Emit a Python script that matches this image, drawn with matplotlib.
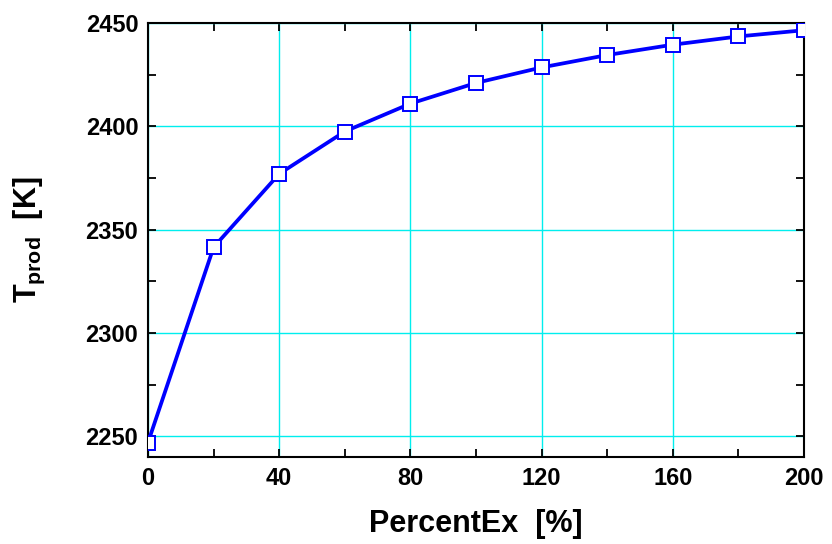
import numpy as np
import matplotlib
matplotlib.use('Agg')
import matplotlib.pyplot as plt
from matplotlib.ticker import MultipleLocator

plt.rcParams['font.family'] = ['Liberation Sans', 'DejaVu Sans']
plt.rcParams['font.weight'] = 'bold'
plt.rcParams['mathtext.fontset'] = 'custom'
plt.rcParams['mathtext.rm'] = 'Liberation Sans:bold'
plt.rcParams['mathtext.it'] = 'Liberation Sans:bold'
plt.rcParams['mathtext.bf'] = 'Liberation Sans:bold'

# percent excess air vs product temperature
percent_ex = [0, 20, 40, 60, 80, 100, 120, 140, 160, 180, 200]
t_prod = [2247, 2341.5, 2377, 2397.5, 2411, 2421, 2428.5, 2434.5, 2439.5, 2443.5, 2446.5]

fig = plt.figure(figsize=(8.32, 5.44), dpi=100)
ax = fig.add_axes([148 / 832, 1 - 457 / 544, (804 - 148) / 832, (457 - 23) / 544])

ax.plot(percent_ex, t_prod, color='#0000ff', lw=2.7, marker='s', ms=9.5,
        mfc='white', mec='#0000ff', mew=1.4, zorder=3)

ax.set_xlim(0, 200)
ax.set_ylim(2240, 2450)
ax.xaxis.set_major_locator(MultipleLocator(40))
ax.xaxis.set_minor_locator(MultipleLocator(20))
ax.yaxis.set_major_locator(MultipleLocator(50))
ax.yaxis.set_minor_locator(MultipleLocator(25))
ax.grid(True, which='major', color='#00eeee', lw=1.0, zorder=0)
ax.set_axisbelow(True)

ax.tick_params(which='both', direction='in', top=True, right=True,
               labelsize=17, width=1.3, length=6)
ax.tick_params(which='major', pad=7)
for s in ax.spines.values():
    s.set_linewidth(1.5)

ax.set_xlabel('PercentEx  [%]', fontsize=22, fontweight='bold', labelpad=14)
ax.set_ylabel(r'$T_{prod}$  [K]', fontsize=22, fontweight='bold', labelpad=28)

fig.savefig('out.png', dpi=100)
